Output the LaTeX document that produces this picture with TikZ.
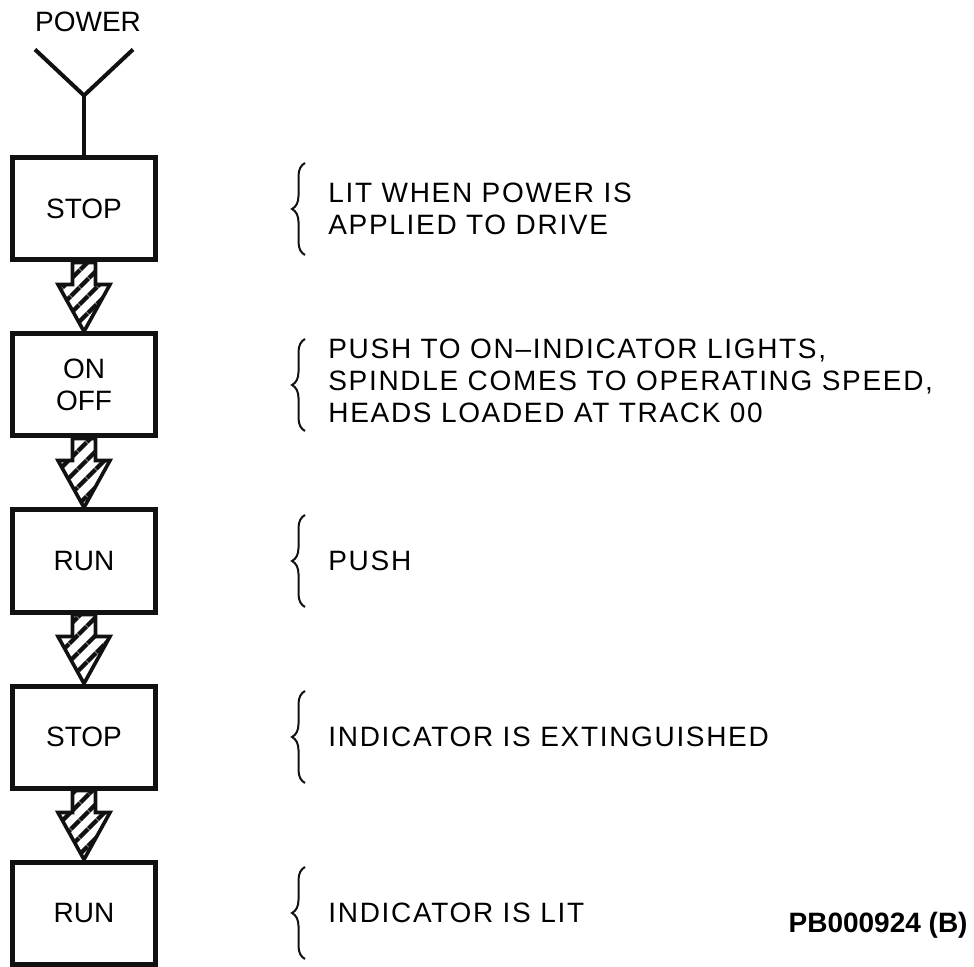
\documentclass[tikz,border=0pt]{standalone}
\usepackage{fontspec}
\setmainfont{Liberation Sans}
\newfontfamily\spaced{Liberation Sans}[LetterSpace=6, Ligatures=TeX]
\usepackage{tikz}
\usetikzlibrary{positioning, patterns.meta, decorations.pathreplacing}
\definecolor{ink}{HTML}{111111}

\begin{document}
\begin{tikzpicture}[
  node distance=34.5pt,
  panel/.style={draw=ink, line width=2.5pt, minimum width=71.5pt, minimum height=51pt, align=center, font=\fontsize{14}{16}\selectfont},
  note/.style={anchor=west, align=left, inner sep=0pt, font=\spaced\fontsize{14}{16}\selectfont},
  wire/.style={draw=ink, line width=2pt},
  hatched/.style={draw=ink, line width=1.8pt, pattern={Lines[angle=45, distance=6.5pt, line width=2.4pt]}, pattern color=ink},
  curly/.style={draw=ink, line width=1pt, decorate, decoration={brace, amplitude=6.5pt}}
]
  \useasboundingbox (0,0) rectangle (487pt,-483.5pt);

  % switch sequence
  \node[panel] (b1) at (42pt,-104.5pt) {STOP};
  \node[panel, below=of b1] (b2) {ON\\OFF};
  \node[panel, below=of b2] (b3) {RUN};
  \node[panel, below=of b3] (b4) {STOP};
  \node[panel, below=of b4] (b5) {RUN};

  % power feed
  \node[font=\fontsize{14}{16}\selectfont] (power) at (44pt,-11pt) {POWER};
  \coordinate[above=30pt of b1.north] (fork);
  \draw[wire] (b1.north) -- (fork);
  \draw[wire] ([shift={(-24.5pt,23pt)}]fork) -- (fork) -- ([shift={(24.5pt,23pt)}]fork);

  % hatched arrows
  \foreach \a/\b in {b1/b2, b2/b3, b3/b4, b4/b5}
    \draw[hatched] ([xshift=-5.75pt]\a.south) -- ++(0,-11pt) -- ++(-7.25pt,0) -- (\b.north)
      -- ([xshift=13pt,yshift=-11pt]\a.south) -- ++(-7.25pt,0) -- ([xshift=5.75pt]\a.south) -- cycle;

  % braces and notes
  \foreach \b in {b1,b2,b3,b4,b5}
    \draw[curly] ([xshift=110.5pt,yshift=-23pt]\b.center) -- ([xshift=110.5pt,yshift=23pt]\b.center);

  \node[note] (n1) at ([xshift=122pt]b1.center) {LIT WHEN POWER IS\\APPLIED TO DRIVE};
  \node[note] (n2) at ([xshift=122pt,yshift=2pt]b2.center) {PUSH TO ON--INDICATOR LIGHTS,\\SPINDLE COMES TO OPERATING SPEED,\\HEADS LOADED AT TRACK 00};
  \node[note] (n3) at ([xshift=122pt]b3.center) {PUSH};
  \node[note] (n4) at ([xshift=122pt]b4.center) {INDICATOR IS EXTINGUISHED};
  \node[note] (n5) at ([xshift=122pt]b5.center) {INDICATOR IS LIT};

  \node[anchor=east, inner sep=0pt, font=\fontsize{14}{16}\selectfont\bfseries] (code) at (484pt,-462.5pt) {PB000924 (B)};
\end{tikzpicture}
\end{document}
